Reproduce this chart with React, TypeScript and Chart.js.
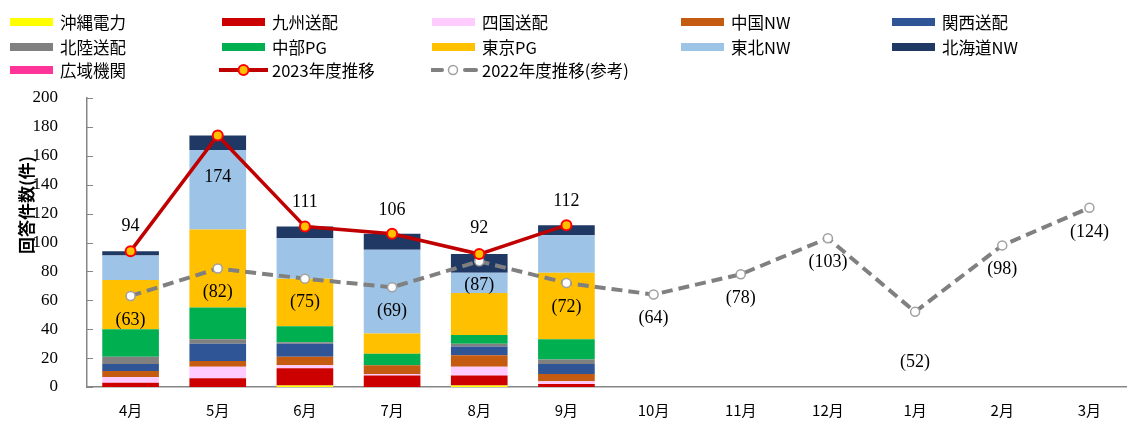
import React, { useEffect, useRef } from "react";
import { Chart, registerables } from "chart.js";

Chart.register(...registerables);

const MONTHS = ["4月", "5月", "6月", "7月", "8月", "9月", "10月", "11月", "12月", "1月", "2月", "3月"];

const OKINAWA = [0, 0, 1, 0, 1, 0];
const KYUSHU = [3, 6, 12, 8, 7, 2];
const SHIKOKU = [4, 8, 2, 1, 6, 2];
const CHUGOKU = [4, 4, 6, 6, 8, 5];
const KANSAI = [5, 12, 9, 0, 6, 7];
const HOKURIKU = [5, 3, 1, 0, 2, 3];
const CHUBU = [19, 22, 11, 8, 6, 14];
const TOKYO = [34, 54, 33, 14, 29, 46];
const TOHOKU = [17, 55, 28, 58, 14, 26];
const HOKKAIDO = [3, 10, 8, 11, 13, 7];
const KOIKI = [0, 0, 0, 0, 0, 0];

const TOTAL_2023 = [94, 174, 111, 106, 92, 112];
const TOTAL_2022 = [63, 82, 75, 69, 87, 72, 64, 78, 103, 52, 98, 124];

const Y_TICKS_MAX = 200;
const Y_TICKS_STEP = 20;

const BAR_SERIES = [
  { label: "沖縄電力", data: OKINAWA, color: "#FFFF00" },
  { label: "九州送配", data: KYUSHU, color: "#CC0000" },
  { label: "四国送配", data: SHIKOKU, color: "#FFCCFF" },
  { label: "中国NW", data: CHUGOKU, color: "#C55A11" },
  { label: "関西送配", data: KANSAI, color: "#2F5597" },
  { label: "北陸送配", data: HOKURIKU, color: "#808080" },
  { label: "中部PG", data: CHUBU, color: "#00B050" },
  { label: "東京PG", data: TOKYO, color: "#FFC000" },
  { label: "東北NW", data: TOHOKU, color: "#9DC3E6" },
  { label: "北海道NW", data: HOKKAIDO, color: "#203864" },
  { label: "広域機関", data: KOIKI, color: "#FF3399" },
];

// label offsets (px, positive = below the point)
const OFFSET_2023 = [-25, 42, -24, -24, -26, -24];
const OFFSET_2022 = [24, 24, 24, 24, 24, 24, 24, 24, 24, 50, 24, 24];

const SERIF = "'Liberation Serif', 'Times New Roman', serif";
const SANS = "'Noto Sans CJK JP', 'Noto Sans', sans-serif";

const LEGEND_COLS = [10, 222, 432, 681, 892];
const LEGEND_ROWS = [22, 47, 70];

const labelsPlugin = {
  id: "customLabels",
  afterDraw(chart: any) {
    const ctx = chart.ctx;
    const area = chart.chartArea;
    const yScale = chart.scales.y;
    ctx.save();
    ctx.strokeStyle = "#868686";
    ctx.lineWidth = 1;
    for (let v = 0; v <= Y_TICKS_MAX; v += Y_TICKS_STEP) {
      const y = Math.round(yScale.getPixelForValue(v)) + 0.5;
      ctx.beginPath();
      ctx.moveTo(area.left, y);
      ctx.lineTo(area.left + 6, y);
      ctx.stroke();
    }
    ctx.save();
    ctx.translate(27, 205);
    ctx.rotate(-Math.PI / 2);
    ctx.font = `bold 17px ${SANS}`;
    ctx.fillStyle = "#000";
    ctx.textAlign = "center";
    ctx.textBaseline = "middle";
    ctx.fillText("回答件数(件)", 0, 0);
    ctx.restore();

    ctx.font = `18px ${SERIF}`;
    ctx.fillStyle = "#000";
    ctx.textAlign = "center";
    ctx.textBaseline = "middle";
    const n = chart.data.datasets.length;
    const meta23 = chart.getDatasetMeta(n - 1);
    const meta22 = chart.getDatasetMeta(n - 2);
    meta22.data.forEach((pt: any, i: number) => {
      const v = TOTAL_2022[i];
      if (v == null) return;
      ctx.fillText(`(${v})`, pt.x, pt.y + OFFSET_2022[i]);
    });
    meta23.data.forEach((pt: any, i: number) => {
      const v = TOTAL_2023[i];
      if (v == null) return;
      ctx.fillText(`${v}`, pt.x, pt.y + OFFSET_2023[i]);
    });
    ctx.restore();
  },
};

function LegendSwatch({ kind, color }: { kind: string; color: string }) {
  if (kind === "bar") {
    return <div style={{ position: "absolute", left: 0, top: -4, width: 43, height: 8, background: color }} />;
  }
  if (kind === "l2023") {
    return (
      <svg style={{ position: "absolute", left: -3, top: -8 }} width={50} height={16}>
        <line x1={0} y1={8} x2={49} y2={8} stroke="#C00000" strokeWidth={4} />
        <circle cx={24.5} cy={8} r={5} fill="#FFC000" stroke="#FF0000" strokeWidth={2} />
      </svg>
    );
  }
  return (
    <svg style={{ position: "absolute", left: -1, top: -8 }} width={50} height={16}>
      <line x1={1} y1={8} x2={11} y2={8} stroke="#808080" strokeWidth={4} strokeLinecap="round" />
      <line x1={34} y1={8} x2={45} y2={8} stroke="#808080" strokeWidth={4} strokeLinecap="round" />
      <circle cx={22} cy={8} r={4.5} fill="#fff" stroke="#A0A0A0" strokeWidth={1.5} />
    </svg>
  );
}

export default function App() {
  const ref = useRef<HTMLCanvasElement | null>(null);

  useEffect(() => {
    if (!ref.current) return;
    const datasets: any[] = BAR_SERIES.map((s) => ({
      type: "bar",
      label: s.label,
      data: s.data,
      backgroundColor: s.color,
      borderWidth: 0,
      stack: "bars",
      order: 3,
      barPercentage: 0.65,
      categoryPercentage: 1,
    }));
    datasets.push({
      type: "line",
      label: "2022年度推移(参考)",
      data: TOTAL_2022,
      stack: "line2022",
      borderColor: "#808080",
      borderWidth: 4,
      borderDash: [11, 6],
      pointRadius: 4.5,
      pointBackgroundColor: "#ffffff",
      pointBorderColor: "#A0A0A0",
      pointBorderWidth: 1.5,
      tension: 0,
      order: 2,
    });
    datasets.push({
      type: "line",
      label: "2023年度推移",
      data: TOTAL_2023,
      stack: "line2023",
      borderColor: "#C00000",
      borderWidth: 3.5,
      pointRadius: 5,
      pointBackgroundColor: "#FFC000",
      pointBorderColor: "#FF0000",
      pointBorderWidth: 2,
      tension: 0,
      order: 1,
    });

    const chart = new Chart(ref.current, {
      type: "bar",
      data: { labels: MONTHS, datasets },
      options: {
        responsive: false,
        animation: false,
        devicePixelRatio: 1,
        layout: { padding: { top: 98, right: 6, left: 0, bottom: 0 } },
        plugins: { legend: { display: false }, tooltip: { enabled: false } },
        scales: {
          x: {
            stacked: true,
            offset: true,
            grid: { display: false },
            border: { display: true, color: "#868686", width: 1.5 },
            ticks: { font: { family: SANS, size: 15 }, color: "#000", padding: 6, maxRotation: 0 },
            afterFit: (s: any) => {
              s.height = 34;
            },
          },
          y: {
            stacked: true,
            min: 0,
            max: Y_TICKS_MAX,
            grid: { display: false },
            border: { display: true, color: "#868686", width: 1.5 },
            ticks: {
              stepSize: Y_TICKS_STEP,
              font: { family: SERIF, size: 17 },
              color: "#000",
              padding: 21,
            },
            afterFit: (s: any) => {
              s.width = 87;
            },
          },
        },
      } as any,
      plugins: [labelsPlugin],
    });
    return () => chart.destroy();
  }, []);

  const legendItems: { label: string; kind: string; color: string }[] = [
    ...BAR_SERIES.map((s) => ({ label: s.label, kind: "bar", color: s.color })),
    { label: "2023年度推移", kind: "l2023", color: "#C00000" },
    { label: "2022年度推移(参考)", kind: "l2022", color: "#808080" },
  ];

  return (
    <div
      style={{
        position: "fixed",
        left: 0,
        top: 0,
        width: 1127,
        height: 421,
        overflow: "hidden",
        background: "#fff",
      }}
    >
      <canvas ref={ref} width={1140} height={421} style={{ position: "absolute", left: 0, top: 0 }} />
      {legendItems.map((it, i) => {
        const col = i % 5;
        const row = Math.floor(i / 5);
        return (
          <div
            key={it.label}
            style={{ position: "absolute", left: LEGEND_COLS[col], top: LEGEND_ROWS[row], height: 0 }}
          >
            <LegendSwatch kind={it.kind} color={it.color} />
            <div
              style={{
                position: "absolute",
                left: 50,
                top: -12,
                whiteSpace: "nowrap",
                font: `16.5px ${SANS}`,
                lineHeight: "24px",
                color: "#000",
              }}
            >
              {it.label}
            </div>
          </div>
        );
      })}
    </div>
  );
}
